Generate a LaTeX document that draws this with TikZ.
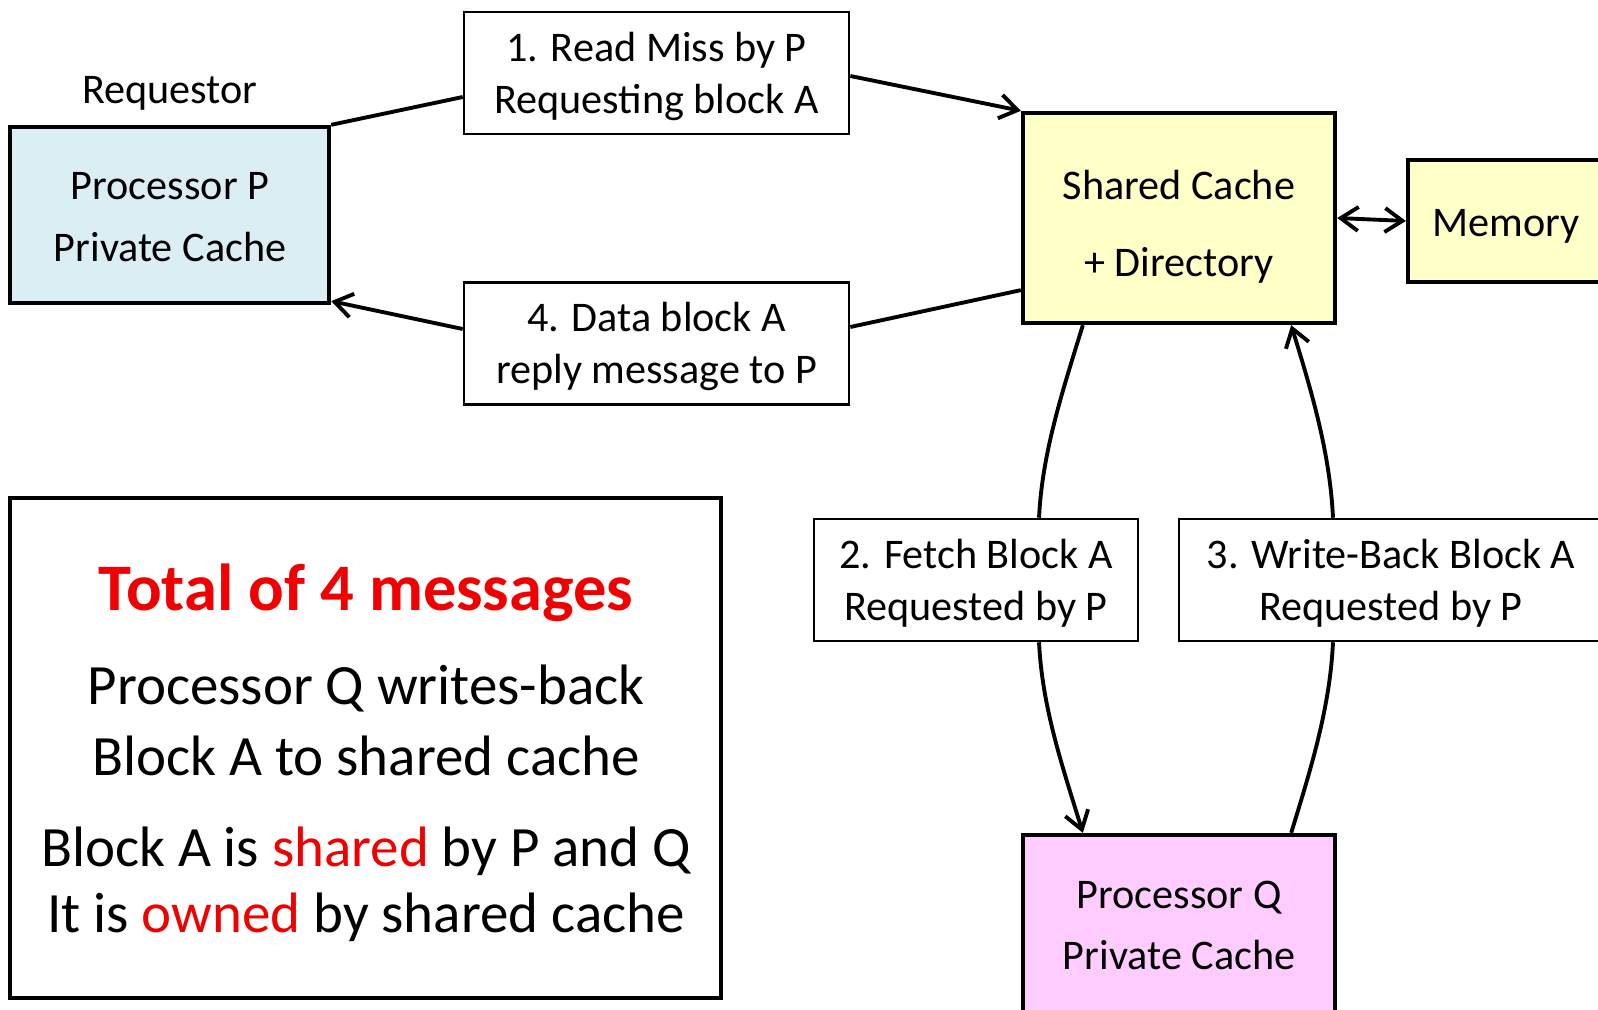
\documentclass[tikz,border=0pt]{standalone}
\usepackage{fontspec}
\setmainfont{Carlito}
\usetikzlibrary{arrows.meta}
\definecolor{pblue}{HTML}{DBEEF4}
\definecolor{syellow}{HTML}{FFFFC8}
\definecolor{qpink}{HTML}{FFCCFF}
\definecolor{hired}{HTML}{F00000}
\begin{document}
\begin{tikzpicture}[x=0.01cm,y=-0.01cm,
  bigbox/.style={draw=black, line width=1.2pt, inner sep=0pt},
  lbl/.style={draw=black, line width=0.7pt, fill=white, inner sep=0pt, minimum height=1.22cm},
  txt/.style={align=center, inner sep=0pt, font=\fontsize{12}{14.8}\selectfont},
  conn/.style={line width=1.1pt},
  arr/.style={conn, -{Straight Barb[length=5pt,width=6.8pt]}},
  dblarr/.style={conn, {Straight Barb[length=5pt,width=6.8pt]}-{Straight Barb[length=5pt,width=6.8pt]}}]
\useasboundingbox (0,0) rectangle (1598,1010);
% main boxes
\node[txt] (req) at (170,93) {Requestor};
\node[bigbox, fill=pblue, minimum width=3.19cm, minimum height=1.76cm] (P) at (169.5,215) {};
\node[txt, font=\fontsize{12}{17.7}\selectfont] (Pt) at (170,217) {Processor P\\Private Cache};
\node[bigbox, fill=syellow, minimum width=3.12cm, minimum height=2.10cm] (S) at (1179,218) {};
\node[txt, font=\fontsize{12}{21.8}\selectfont] (St) at (1179,226.5) {Shared Cache\\+ Directory};
\node[bigbox, fill=syellow, minimum width=1.96cm, minimum height=1.22cm] (M) at (1506,221) {};
\node[txt] (Mt) at (1506,226) {Memory};
\node[bigbox, fill=qpink, minimum width=3.12cm, minimum height=1.81cm] (Q) at (1179,925.5) {};
\node[txt, font=\fontsize{12}{17.4}\selectfont] (Qt) at (1179,925.5) {Processor Q\\Private Cache};
% message labels
\node[lbl, minimum width=3.85cm] (b1) at (656.5,73) {};
\node[txt] (b1t) at (656.5,76.5) {1. Read Miss by P\\Requesting block A};
\node[lbl, minimum width=3.85cm] (b4) at (656.5,343.5) {};
\node[txt] (b4t) at (656.5,346.5) {4. Data block A\\reply message to P};
\node[lbl, minimum width=3.24cm] (b2) at (976,580) {};
\node[txt] (b2t) at (976,583) {2. Fetch Block A\\Requested by P};
\node[lbl, minimum width=4.24cm] (b3) at (1391,580) {};
\node[txt] (b3t) at (1391,583) {3. Write-Back Block A\\Requested by P};
% legend
\node[draw=black, line width=1.2pt, minimum width=7.11cm, minimum height=5.0cm, inner sep=0pt] (L) at (365.5,748) {};
\node[text=hired, font=\fontsize{18.9}{20}\selectfont\bfseries] (t1) at (366,593) {Total of 4 messages};
\node[align=center, font=\fontsize{16.2}{20.2}\selectfont] (t2) at (366,720) {Processor Q writes-back\\Block A to shared cache};
\node[align=center, font=\fontsize{16.2}{18.8}\selectfont] (t3) at (366,884) {Block A is \textcolor{hired}{shared} by P and Q\\It is \textcolor{hired}{owned} by shared cache};
% connectors
\draw[conn] (P.north east) -- ([yshift=-0.24cm]b1.west);
\draw[arr] ([yshift=-0.03cm]b1.east) -- (S.north west);
\draw[conn] ([yshift=0.35cm]S.south west) -- ([yshift=0.165cm]b4.east);
\draw[arr] ([yshift=0.145cm]b4.west) -- ([yshift=0.04cm]P.south east);
\draw[dblarr] (S.east) -- (M.west);
\draw[conn] ([xshift=0.62cm]S.south west) .. controls +(-20,65) and +(3,-65) .. ([xshift=0.63cm]b2.north);
\draw[arr] ([xshift=0.63cm]b2.south) .. controls +(3,65) and +(-20,-65) .. ([xshift=0.62cm]Q.north west);
\draw[conn] ([xshift=-0.46cm]Q.north east) .. controls +(20,-65) and +(-3,65) .. ([xshift=-0.58cm]b3.south);
\draw[arr] ([xshift=-0.58cm]b3.north) .. controls +(-3,-65) and +(20,65) .. ([xshift=-0.46cm]S.south east);
\end{tikzpicture}
\end{document}
